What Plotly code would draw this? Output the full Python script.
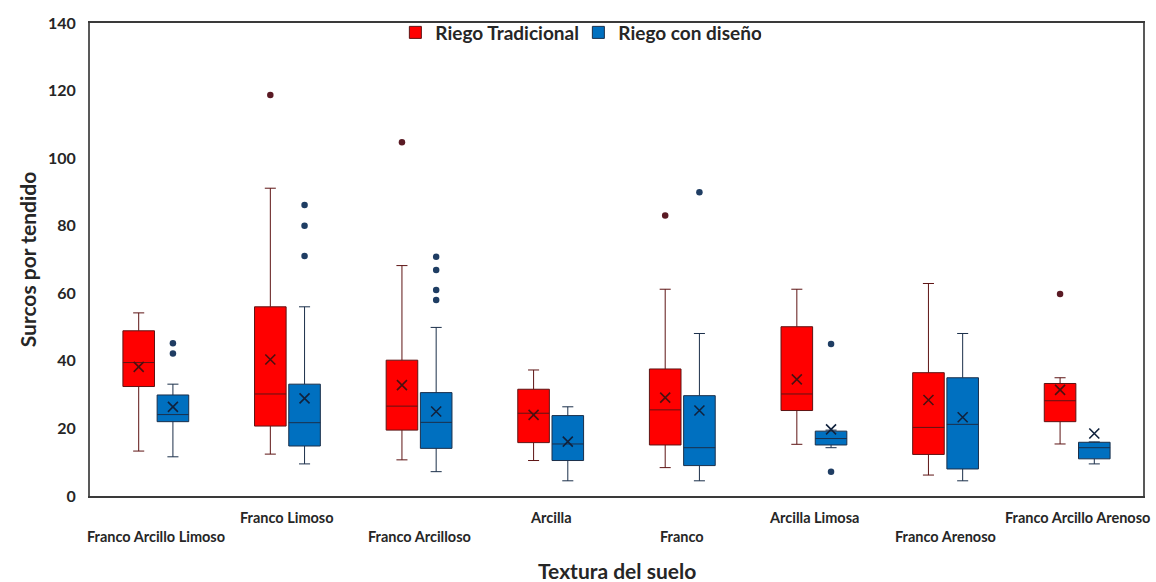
import plotly.graph_objects as go

categories = ["Franco Arcillo Limoso", "Franco Limoso", "Franco Arcilloso", "Arcilla",
              "Franco", "Arcilla Limosa", "Franco Arenoso", "Franco Arcillo Arenoso"]

# Riego Tradicional
trad_low = [13.3, 12.4, 10.7, 10.5, 8.4, 15.3, 6.2, 15.4]
trad_q1 = [32.4, 20.7, 19.5, 15.8, 15.1, 25.3, 12.3, 22.0]
trad_med = [39.5, 30.2, 26.6, 24.5, 25.5, 30.2, 20.3, 28.2]
trad_q3 = [48.9, 56.0, 40.2, 31.6, 37.6, 50.1, 36.5, 33.3]
trad_high = [54.2, 91.1, 68.2, 37.3, 61.2, 61.2, 62.9, 35.0]
trad_mean = [38.2, 40.4, 32.8, 24.0, 29.1, 34.5, 28.4, 31.4]
trad_out_cat = [1, 2, 4, 7]
trad_out_val = [118.7, 104.7, 83.0, 59.8]

# Riego con diseño
dis_low = [11.6, 9.5, 7.2, 4.5, 4.5, 14.3, 4.5, 9.5]
dis_q1 = [22.0, 14.8, 14.1, 10.5, 9.0, 15.1, 8.0, 11.0]
dis_med = [24.1, 21.7, 21.8, 15.4, 14.3, 17.0, 21.2, 14.3]
dis_q3 = [29.9, 33.1, 30.6, 23.8, 29.7, 19.2, 35.0, 15.9]
dis_high = [33.1, 56.0, 49.9, 26.4, 48.1, 19.5, 48.1, 16.0]
dis_mean = [26.4, 28.9, 25.0, 16.1, 25.3, 19.7, 23.3, 18.5]
dis_out_cat = [0, 0, 1, 1, 1, 2, 2, 2, 2, 4, 5, 5]
dis_out_val = [45.2, 42.2, 86.1, 80.0, 71.0, 70.8, 66.9, 61.0, 58.0, 89.9, 45.0, 7.2]

y_ticks = [0, 20, 40, 60, 80, 100, 120, 140]

OFF = 0.13
BW = 0.24
FONT = "Lato"
TXT = "#262626"

idx = list(range(len(categories)))
x_trad = [i - OFF for i in idx]
x_dis = [i + OFF for i in idx]

RED = "#ff0000"
BLUE = "#0070c0"
RED_LINE = "#5e1414"
BLUE_LINE = "#1b2f4a"

fig = go.Figure()

fig.add_trace(go.Box(
    name="Riego Tradicional", x=x_trad,
    q1=trad_q1, median=trad_med, q3=trad_q3,
    lowerfence=trad_low, upperfence=trad_high,
    width=BW, whiskerwidth=0.35, fillcolor=RED,
    line=dict(color=RED_LINE, width=1), boxpoints=False, hoverinfo="y",
))
fig.add_trace(go.Box(
    name="Riego con diseño", x=x_dis,
    q1=dis_q1, median=dis_med, q3=dis_q3,
    lowerfence=dis_low, upperfence=dis_high,
    width=BW, whiskerwidth=0.35, fillcolor=BLUE,
    line=dict(color=BLUE_LINE, width=1), boxpoints=False, hoverinfo="y",
))

# means
fig.add_trace(go.Scatter(x=x_trad, y=trad_mean, mode="markers", showlegend=False,
                         marker=dict(symbol="x-thin-open", size=10, color="#4a1010",
                                     line=dict(color="#4a1010", width=1.6))))
fig.add_trace(go.Scatter(x=x_dis, y=dis_mean, mode="markers", showlegend=False,
                         marker=dict(symbol="x-thin-open", size=10, color="#10223d",
                                     line=dict(color="#10223d", width=1.6))))
# outliers
fig.add_trace(go.Scatter(x=[c - OFF for c in trad_out_cat], y=trad_out_val, mode="markers",
                         showlegend=False, marker=dict(size=6.5, color="#5a1a24")))
fig.add_trace(go.Scatter(x=[c + OFF for c in dis_out_cat], y=dis_out_val, mode="markers",
                         showlegend=False, marker=dict(size=6.5, color="#1f3d63")))

annotations = []
for i, c in enumerate(categories):
    annotations.append(dict(
        x=i, xref="x", y=0, yref="paper", yanchor="middle", xanchor="center",
        yshift=-40 if i % 2 == 0 else -21, showarrow=False, text=c,
        font=dict(family=FONT, size=14.5, color=TXT, weight="bold"),
    ))
annotations.append(dict(
    x=0.5, xref="paper", y=0, yref="paper", yanchor="middle", yshift=-74,
    showarrow=False, text="Textura del suelo",
    font=dict(family=FONT, size=21, color=TXT, weight="bold"),
))

fig.update_layout(
    width=1156, height=582,
    margin=dict(l=90, r=13, t=23, b=86),
    paper_bgcolor="white", plot_bgcolor="white",
    showlegend=True,
    legend=dict(orientation="h", x=0.29, xanchor="left", y=1.02, yanchor="top",
                font=dict(family=FONT, size=19, color=TXT, weight="bold"),
                bgcolor="rgba(0,0,0,0)", itemwidth=30, entrywidth=138),
    annotations=annotations,
    xaxis=dict(range=[-0.5, len(categories) - 0.5], showticklabels=False, ticks="",
               showgrid=False, zeroline=False, showline=True, linecolor="#3a3a3a",
               linewidth=2, mirror=True),
    yaxis=dict(range=[0, 140], tickvals=y_ticks, ticktext=[str(v) for v in y_ticks],
               showgrid=False, zeroline=False, showline=True, linecolor="#595959",
               linewidth=2, mirror=True, ticks="", ticklabelstandoff=9,
               tickfont=dict(family=FONT, size=16, color=TXT, weight="bold"),
               title=dict(text="Surcos por tendido", standoff=6,
                          font=dict(family=FONT, size=21, color=TXT, weight="bold"))),
)

fig.write_html("out.html")
